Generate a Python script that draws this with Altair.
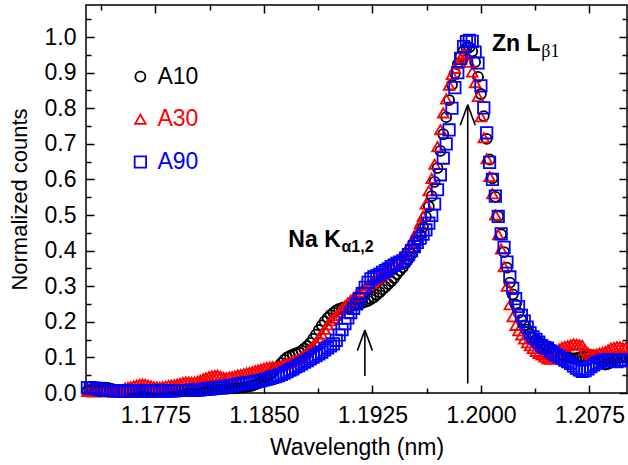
import altair as alt
import pandas as pd

# ------------------------------------------------------------------ data
series_names = ["A10", "A30", "A90"]
series_colors = ["#000000", "#ff0000", "#0000ff"]
series_shapes = ["circle", "triangle-up", "square"]
series_sizes = [100, 130, 90]

# wavelength sampling of the spectra (nm)
wl_start = 1.1728
wl_step = 0.0002
wavelength = [round(wl_start + wl_step * i, 4) for i in range(187)]

a10 = [0.006, 0.009, 0.011, 0.013, 0.015, 0.015, 0.015, 0.014, 0.012, 0.010,
       0.007, 0.005, 0.004, 0.004, 0.005, 0.004, 0.003, 0.004, 0.005, 0.004,
       0.004, 0.005, 0.004, 0.004, 0.005, 0.005, 0.004, 0.005, 0.006, 0.005,
       0.005, 0.006, 0.006, 0.005, 0.006, 0.006, 0.006, 0.007, 0.007, 0.007,
       0.007, 0.008, 0.008, 0.009, 0.009, 0.010, 0.011, 0.012, 0.012, 0.013,
       0.013, 0.014, 0.014, 0.015, 0.016, 0.017, 0.019, 0.021, 0.024, 0.027,
       0.031, 0.036, 0.043, 0.051, 0.059, 0.067, 0.075, 0.084, 0.093, 0.100,
       0.104, 0.108, 0.111, 0.114, 0.119, 0.125, 0.132, 0.141, 0.152, 0.164,
       0.177, 0.190, 0.201, 0.211, 0.219, 0.226, 0.232, 0.236, 0.239, 0.241,
       0.243, 0.244, 0.246, 0.248, 0.250, 0.253, 0.256, 0.259, 0.264, 0.269,
       0.276, 0.283, 0.291, 0.298, 0.306, 0.314, 0.323, 0.334, 0.344, 0.353,
       0.365, 0.377, 0.390, 0.406, 0.424, 0.445, 0.466, 0.495, 0.524, 0.553,
       0.593, 0.632, 0.680, 0.727, 0.775, 0.823, 0.866, 0.898, 0.924, 0.945,
       0.961, 0.970, 0.971, 0.960, 0.930, 0.888, 0.840, 0.778, 0.714, 0.656,
       0.603, 0.551, 0.496, 0.446, 0.396, 0.352, 0.310, 0.277, 0.249, 0.225,
       0.205, 0.190, 0.178, 0.166, 0.157, 0.150, 0.143, 0.139, 0.134, 0.129,
       0.125, 0.121, 0.117, 0.112, 0.108, 0.104, 0.100, 0.098, 0.097, 0.098,
       0.100, 0.102, 0.104, 0.106, 0.106, 0.103, 0.097, 0.092, 0.085, 0.080,
       0.082, 0.086, 0.092, 0.096, 0.100, 0.100, 0.100]

a30 = [0.004, 0.004, 0.003, 0.004, 0.005, 0.004, 0.003, 0.004, 0.005, 0.004,
       0.005, 0.006, 0.009, 0.014, 0.016, 0.018, 0.020, 0.022, 0.024, 0.025,
       0.024, 0.022, 0.020, 0.018, 0.017, 0.016, 0.018, 0.019, 0.021, 0.022,
       0.023, 0.025, 0.027, 0.030, 0.031, 0.031, 0.030, 0.031, 0.033, 0.036,
       0.040, 0.043, 0.046, 0.048, 0.049, 0.050, 0.047, 0.044, 0.043, 0.045,
       0.046, 0.048, 0.051, 0.052, 0.054, 0.056, 0.058, 0.060, 0.063, 0.065,
       0.067, 0.070, 0.072, 0.073, 0.074, 0.072, 0.073, 0.076, 0.079, 0.083,
       0.086, 0.089, 0.092, 0.096, 0.100, 0.107, 0.114, 0.123, 0.132, 0.142,
       0.155, 0.166, 0.179, 0.192, 0.203, 0.210, 0.218, 0.227, 0.236, 0.245,
       0.253, 0.261, 0.268, 0.276, 0.283, 0.290, 0.296, 0.302, 0.308, 0.314,
       0.320, 0.326, 0.332, 0.338, 0.346, 0.355, 0.362, 0.371, 0.379, 0.389,
       0.398, 0.410, 0.425, 0.440, 0.456, 0.477, 0.497, 0.531, 0.568, 0.603,
       0.643, 0.692, 0.740, 0.787, 0.826, 0.865, 0.895, 0.912, 0.926, 0.941,
       0.952, 0.950, 0.929, 0.902, 0.872, 0.833, 0.776, 0.717, 0.658, 0.608,
       0.560, 0.500, 0.445, 0.405, 0.355, 0.300, 0.248, 0.214, 0.190, 0.175,
       0.163, 0.152, 0.141, 0.133, 0.125, 0.117, 0.111, 0.107, 0.101, 0.096,
       0.095, 0.101, 0.112, 0.124, 0.128, 0.131, 0.133, 0.135, 0.138, 0.137,
       0.136, 0.134, 0.121, 0.113, 0.108, 0.108, 0.110, 0.112, 0.114, 0.117,
       0.121, 0.126, 0.128, 0.130, 0.130, 0.128, 0.127]

a90 = [0.015, 0.015, 0.014, 0.013, 0.011, 0.009, 0.008, 0.007, 0.007, 0.006,
       0.006, 0.005, 0.005, 0.005, 0.005, 0.005, 0.005, 0.005, 0.005, 0.005,
       0.005, 0.005, 0.005, 0.005, 0.006, 0.006, 0.006, 0.006, 0.006, 0.006,
       0.006, 0.007, 0.007, 0.007, 0.007, 0.007, 0.008, 0.008, 0.009, 0.009,
       0.010, 0.011, 0.012, 0.013, 0.014, 0.015, 0.016, 0.018, 0.019, 0.020,
       0.021, 0.023, 0.024, 0.025, 0.027, 0.028, 0.029, 0.030, 0.032, 0.033,
       0.035, 0.037, 0.039, 0.041, 0.044, 0.046, 0.049, 0.052, 0.056, 0.060,
       0.064, 0.068, 0.073, 0.077, 0.082, 0.087, 0.091, 0.096, 0.101, 0.105,
       0.110, 0.115, 0.121, 0.127, 0.132, 0.138, 0.148, 0.163, 0.178, 0.195,
       0.211, 0.226, 0.238, 0.250, 0.265, 0.279, 0.297, 0.311, 0.321, 0.326,
       0.329, 0.333, 0.339, 0.344, 0.349, 0.355, 0.359, 0.364, 0.368, 0.371,
       0.379, 0.389, 0.400, 0.411, 0.423, 0.435, 0.446, 0.458, 0.477, 0.499,
       0.531, 0.571, 0.613, 0.660, 0.700, 0.739, 0.800, 0.858, 0.900, 0.940,
       0.973, 0.987, 0.991, 0.988, 0.958, 0.927, 0.863, 0.801, 0.731, 0.648,
       0.600, 0.553, 0.496, 0.447, 0.409, 0.368, 0.326, 0.294, 0.265, 0.243,
       0.218, 0.202, 0.185, 0.169, 0.158, 0.151, 0.143, 0.133, 0.128, 0.126,
       0.118, 0.112, 0.107, 0.102, 0.097, 0.092, 0.088, 0.083, 0.076, 0.070,
       0.065, 0.061, 0.063, 0.068, 0.074, 0.079, 0.084, 0.087, 0.090, 0.093,
       0.093, 0.092, 0.090, 0.088, 0.090, 0.093, 0.093]

x_major = [1.1775, 1.1850, 1.1925, 1.2000, 1.2075]
x_minor = [1.17375, 1.18125, 1.18875, 1.19625, 1.20375]
y_major = [0.0, 0.1, 0.2, 0.3, 0.4, 0.5, 0.6, 0.7, 0.8, 0.9, 1.0]
y_minor = [0.05, 0.15, 0.25, 0.35, 0.45, 0.55, 0.65, 0.75, 0.85, 0.95, 1.05]

# annotation arrows (wavelength, counts)
arrow_x = [1.19198, 1.19909]
arrow_base = [0.048, 0.027]
arrow_tip = [0.177, 0.810]
head_dx = 0.00052
head_dy = 0.058

label_main = ["Na K", "Zn L"]
label_main_x = [1.18669, 1.20077]
label_main_y = [0.411, 0.9595]
label_sub = ["\u03b11,2", "\u03b21"]
label_sub_x = [1.19036, 1.20418]
label_sub_y = [0.396, 0.945]

legend_sym_x = 1.17646
legend_text_x = 1.17764
legend_y = [0.889, 0.769, 0.649]

# ------------------------------------------------------------------ tables
rows = []
for name, vals in zip(series_names, [a10, a30, a90]):
    for w, v in zip(wavelength, vals):
        rows.append({"wavelength": w, "counts": v, "series": name})
df = pd.DataFrame(rows)

seg = []
for xa, yb, yt in zip(arrow_x, arrow_base, arrow_tip):
    seg.append({"x": xa, "y": yb, "x2": xa, "y2": yt})
    seg.append({"x": xa - head_dx, "y": yt - head_dy, "x2": xa, "y2": yt})
    seg.append({"x": xa + head_dx, "y": yt - head_dy, "x2": xa, "y2": yt})
seg_df = pd.DataFrame(seg)

main_df = pd.DataFrame({"x": label_main_x, "y": label_main_y, "t": label_main})
sub_df = pd.DataFrame({"x": label_sub_x, "y": label_sub_y, "t": label_sub})
leg_df = pd.DataFrame({"series": series_names, "xs": [legend_sym_x] * 3,
                       "xt": [legend_text_x] * 3, "y": legend_y})

# ------------------------------------------------------------------ chart
W, H = 541, 388
FONT = "Liberation Sans"

x_scale = alt.Scale(domain=[1.1727, 1.2101], nice=False, zero=False)
y_scale = alt.Scale(domain=[0, 1.09], nice=False, zero=False)
col = alt.Color("series:N", scale=alt.Scale(domain=series_names, range=series_colors), legend=None)
shp = alt.Shape("series:N", scale=alt.Scale(domain=series_names, range=series_shapes), legend=None)
siz = alt.Size("series:N", scale=alt.Scale(domain=series_names, range=series_sizes), legend=None)

points = alt.Chart(df).mark_point(filled=False, strokeWidth=1.8, opacity=1).encode(
    x=alt.X("wavelength:Q", scale=x_scale,
            axis=alt.Axis(orient="bottom", values=x_major, format=".4f",
                          title="Wavelength (nm)", ticks=False, tickSize=0,
                          domain=False, grid=False, labelFlush=False, labelOverlap=False,
                          labelFontSize=23, labelPadding=11, titleFontSize=23,
                          titlePadding=9)),
    y=alt.Y("counts:Q", scale=y_scale,
            axis=alt.Axis(orient="left", values=y_major, format=".1f",
                          title="Normalized counts", ticks=False, tickSize=0,
                          domain=False, grid=False, labelFlush=False, labelOverlap=False,
                          labelFontSize=23, labelPadding=10, titleFontSize=22,
                          titlePadding=13)),
    color=col, shape=shp, size=siz,
)

legend_sym = alt.Chart(leg_df).mark_point(filled=False, strokeWidth=1.8, opacity=1).encode(
    x=alt.X("xs:Q", scale=x_scale, axis=None),
    y=alt.Y("y:Q", scale=y_scale, axis=None),
    color=col, shape=shp, size=siz,
)
legend_txt = alt.Chart(leg_df).mark_text(align="left", baseline="middle", font=FONT,
                                         fontSize=23).encode(
    x=alt.X("xt:Q", scale=x_scale, axis=None),
    y=alt.Y("y:Q", scale=y_scale, axis=None),
    text="series:N", color=col,
)

arrows = alt.Chart(seg_df).mark_rule(color="black", strokeWidth=1.6).encode(
    x=alt.X("x:Q", scale=x_scale, axis=None),
    y=alt.Y("y:Q", scale=y_scale, axis=None),
    x2="x2:Q", y2="y2:Q",
)

txt_main = alt.Chart(main_df).mark_text(align="left", baseline="alphabetic", font=FONT,
                                        fontSize=23, fontWeight="bold", color="black").encode(
    x=alt.X("x:Q", scale=x_scale, axis=None),
    y=alt.Y("y:Q", scale=y_scale, axis=None),
    text="t:N",
)
txt_sub_na = alt.Chart(sub_df.iloc[[0]]).mark_text(align="left", baseline="alphabetic", font=FONT,
                                                   fontSize=16, fontWeight="bold", color="black").encode(
    x=alt.X("x:Q", scale=x_scale, axis=None),
    y=alt.Y("y:Q", scale=y_scale, axis=None),
    text="t:N",
)
txt_sub_zn = alt.Chart(sub_df.iloc[[1]]).mark_text(align="left", baseline="alphabetic",
                                                   font="Liberation Serif", fontSize=18,
                                                   color="black").encode(
    x=alt.X("x:Q", scale=x_scale, axis=None),
    y=alt.Y("y:Q", scale=y_scale, axis=None),
    text="t:N",
)


def tick_layer(x_orient, y_orient, xvals, yvals, size):
    return alt.Chart(seg_df).mark_point(opacity=0).encode(
        x=alt.X("x:Q", scale=x_scale,
                axis=alt.Axis(orient=x_orient, offset=-H, values=xvals, labels=False,
                              domain=False, grid=False, ticks=True, tickSize=size,
                              tickWidth=1.5, tickColor="black", title=None)),
        y=alt.Y("y:Q", scale=y_scale,
                axis=alt.Axis(orient=y_orient, offset=-W, values=yvals, labels=False,
                              domain=False, grid=False, ticks=True, tickSize=size,
                              tickWidth=1.5, tickColor="black", title=None)),
    )


ticks = [
    tick_layer("top", "right", x_major, y_major, 8),
    tick_layer("bottom", "left", x_major, y_major, 8),
    tick_layer("top", "right", x_minor, y_minor, 5),
    tick_layer("bottom", "left", x_minor, y_minor, 5),
]

chart = alt.layer(
    points, legend_sym, legend_txt, arrows, txt_main, txt_sub_na, txt_sub_zn, *ticks
).resolve_axis(
    x="independent", y="independent"
).properties(
    width=W, height=H,
    autosize=alt.AutoSizeParams(type="none"),
    padding={"left": 86, "top": 5, "right": 1, "bottom": 72},
    background="white",
).configure_view(
    stroke="black", strokeWidth=1.5
).configure_axis(
    labelFont=FONT, titleFont=FONT, labelColor="black", titleColor="black",
    titleFontWeight="normal",
)

chart.save("out.html", embed_options={"renderer": "svg", "actions": False})
